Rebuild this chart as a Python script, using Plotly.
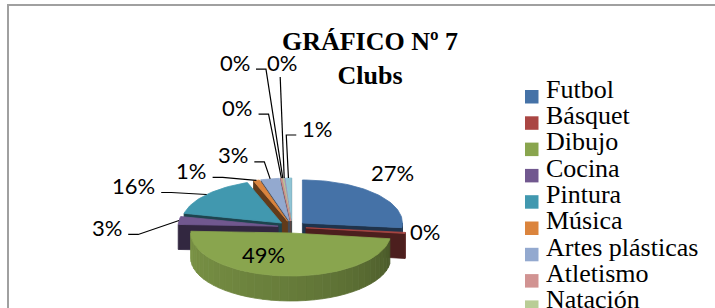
import math
import plotly.graph_objects as go

# ---------------- data ----------------
categories = ["Futbol", "Básquet", "Dibujo", "Cocina", "Pintura", "Música",
              "Artes plásticas", "Atletismo", "Natación", "Danza", "Teatro"]
percent_values = [27, 0.4, 49, 3, 16, 1, 3, 0.2, 0.2, 0.2, 1]
chart_title = "GRÁFICO Nº 7"
chart_subtitle = "Clubs"

# ---------------- style ----------------
slice_colors = ["#4572A7", "#AA4643", "#89A54E", "#71588F", "#4198AF", "#DB843D",
                "#93A9CF", "#D19392", "#B9CD96", "#A99BBD", "#8FC4D4"]
# label offset (px) from the slice rim point, and side of the leader line
label_layout = [(16, -22, None), (20, -1, None), (-19, -21, None), (-72, 7, "right"),
                (-73, -9, "right"), (-65, -10, "right"), (-37, -24, "right"),
                (-44, -71, "right"), (-48, -116, "right"), (-2, -116, "below"),
                (29, -50, "left")]

W, H = 715, 308
CX, CY = 292.0, 227.0      # pie centre (px)
RX, RY = 100.0, 43.0       # ellipse radii (tilted pie)
DEPTH = 25.0               # thickness
EXPLODE = 14.0             # explosion distance
LABEL_FONT = dict(family="Lato", size=22, color="black")
LEGEND_FONT = dict(family="Liberation Serif", size=26, color="black")


def shade(hex_color, f):
    h = hex_color.lstrip("#")
    r, g, b = (int(h[i:i + 2], 16) for i in (0, 2, 4))
    return "rgb(%d,%d,%d)" % (min(255, r * f), min(255, g * f), min(255, b * f))


def rim(cx, cy, deg, drop=0.0):
    t = math.radians(deg)
    return cx + RX * math.sin(t), cy - RY * math.cos(t) + drop


def arc(cx, cy, a, b, drop=0.0, step=2.0):
    n = max(1, int(math.ceil(abs(b - a) / step)))
    return [rim(cx, cy, a + (b - a) * k / n, drop) for k in range(n + 1)]


def poly_trace(points, color, name=None):
    xs = [p[0] for p in points] + [points[0][0]]
    ys = [p[1] for p in points] + [points[0][1]]
    return go.Scatter(x=xs, y=ys, mode="lines", fill="toself", fillcolor=color,
                      line=dict(color=color, width=0.8), hoverinfo="text" if name else "skip",
                      hovertext=name, showlegend=False)


total = sum(percent_values)
fractions = [v / total for v in percent_values]
starts, acc = [], 0.0
for f in fractions:
    starts.append(acc * 360.0)
    acc += f
ends = [s + f * 360.0 for s, f in zip(starts, fractions)]
mids = [(s + e) / 2 for s, e in zip(starts, ends)]

centres = []
for m in mids:
    t = math.radians(m)
    centres.append((CX + EXPLODE * math.sin(t), CY - EXPLODE * (RY / RX) * math.cos(t)))

traces = []
order = sorted(range(len(categories)), key=lambda i: -math.cos(math.radians(mids[i])))
for i in order:
    a, b = starts[i], ends[i]
    cx, cy = centres[i]
    col = slice_colors[i]
    # radial cut faces facing the viewer
    for ang, normal in ((a, a - 90), (b, b + 90)):
        if math.cos(math.radians(normal)) < 0:
            p1 = rim(cx, cy, ang)
            pts = [(cx, cy), p1, (p1[0], p1[1] + DEPTH), (cx, cy + DEPTH)]
            traces.append(poly_trace(pts, shade(col, 0.45)))
    # outer wall (front half only), shaded gradient
    lo, hi = max(a, 90.0), min(b, 270.0)
    if hi > lo:
        n = max(1, int(math.ceil((hi - lo) / 5.0)))
        for k in range(n):
            s0 = lo + (hi - lo) * k / n
            s1 = lo + (hi - lo) * (k + 1) / n
            mid = (s0 + s1) / 2
            f = 0.46 + 0.44 * ((mid - 90.0) / 180.0) ** 0.6
            pts = arc(cx, cy, s0, s1, 0.0, 1.0) + arc(cx, cy, s1, s0, DEPTH, 1.0)
            traces.append(poly_trace(pts, shade(col, f)))
    # top face
    pts = [(cx, cy)] + arc(cx, cy, a, b)
    traces.append(poly_trace(pts, col, "%s: %.0f%%" % (categories[i], fractions[i] * 100)))

# data labels with leader lines
annotations = []
for i, (dx, dy, side) in enumerate(label_layout):
    cx, cy = centres[i]
    ax_, ay_ = rim(cx, cy, mids[i])
    lx, ly = ax_ + dx, ay_ + dy
    txt = "%d%%" % round(fractions[i] * 100)
    annotations.append(dict(x=lx, y=ly, xref="x", yref="y", text=txt, showarrow=False,
                            font=LABEL_FONT, xanchor="center", yanchor="middle"))
    w = LABEL_FONT["size"] * (0.58 * (len(txt) - 1) + 0.80)
    if side == "right":
        sx, sy = lx + w / 2 + 6, ly + 7
        path = [(sx, sy), (sx + 10, sy), (ax_, ay_)]
    elif side == "left":
        sx, sy = lx - w / 2 - 6, ly + 7
        path = [(sx, sy), (sx - 10, sy), (ax_, ay_)]
    elif side == "below":
        path = [(lx - 2, ly + 15), (ax_, ay_)]
    else:
        path = None
    if path:
        traces.append(go.Scatter(x=[p[0] for p in path], y=[p[1] for p in path], mode="lines",
                                 line=dict(color="black", width=1.2), hoverinfo="skip",
                                 showlegend=False))

# legend (drawn as real text, clipped by the chart edge like the original)
shapes = [dict(type="rect", xref="x", yref="y", x0=8, y0=5, x1=W + 50, y1=H + 50,
               line=dict(color="#a0a0a0", width=2), fillcolor="rgba(0,0,0,0)", layer="below")]
LEG_X, LEG_TOP, LEG_STEP, LEG_SQ = 525, 90, 26.3, 13.5
for i, name in enumerate(categories):
    y0 = LEG_TOP + i * LEG_STEP
    shapes.append(dict(type="rect", xref="x", yref="y", x0=LEG_X, x1=LEG_X + LEG_SQ,
                       y0=y0, y1=y0 + LEG_SQ, fillcolor=slice_colors[i], line=dict(width=0)))
    annotations.append(dict(x=LEG_X + LEG_SQ + 5, y=y0 + LEG_SQ / 2 - 7.5, xref="x", yref="y",
                            text=name, showarrow=False, font=LEGEND_FONT,
                            xanchor="left", yanchor="middle"))

fig = go.Figure(traces)
fig.update_layout(
    width=W, height=H, margin=dict(l=0, r=0, t=0, b=0),
    paper_bgcolor="white", plot_bgcolor="white",
    title=dict(text="%s<br>%s" % (chart_title, chart_subtitle), x=370 / W, xanchor="center",
               y=1 - 50 / H, yanchor="top", yref="container",
               font=dict(family="Liberation Serif", size=26, color="black", weight="bold")),
    xaxis=dict(range=[0, W], visible=False, fixedrange=True),
    yaxis=dict(range=[H, 0], visible=False, fixedrange=True),
    shapes=shapes, annotations=annotations, showlegend=False,
)
fig.write_html("out.html", config={"displayModeBar": False},
               post_script="document.body.style.margin='0';")
